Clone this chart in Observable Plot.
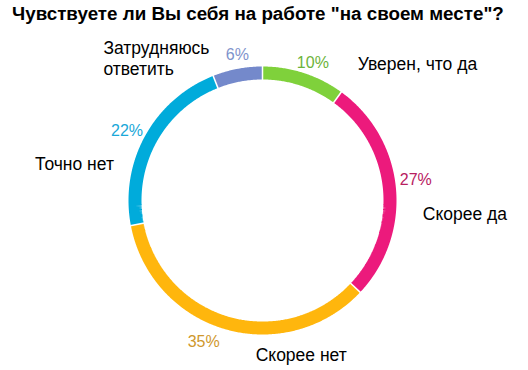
<!DOCTYPE html>
<html><head><meta charset="utf-8">
<script src="https://cdn.jsdelivr.net/npm/d3@7"></script>
<script src="https://cdn.jsdelivr.net/npm/@observablehq/plot@0.6"></script>
<style>
body{margin:0;background:#fff;font-family:"Liberation Sans",Arial,sans-serif;}
#title{height:30px;line-height:27px;padding-left:12px;font-weight:bold;font-size:18.8px;color:#000;white-space:nowrap;}
</style></head>
<body>
<div id="title"></div>
<div id="chart"></div>
<script>
const title = "Чувствуете ли Вы себя на работе \"на своем месте\"?";
const categories = ["Уверен, что да", "Скорее да", "Скорее нет", "Точно нет", "Затрудняюсь\nответить"];
const values = [10, 27, 35, 22, 6];
const colors = ["#7fd13b", "#ec1a7c", "#ffb60d", "#00abdb", "#7489cb"];
const pctColors = ["#6cb33a", "#b8205f", "#cf982c", "#1aa8d8", "#7f93cc"];
// layout nudges (pixels, screen direction) for labels
const pctNudge = [[4,5],[4,-7],[-17,-3],[-4,3],[3,2]];
const catNudge = [[49,5],[11,27],[35,10],[-96,35],[-131,5]];

document.getElementById("title").textContent = title;

const W = 528, H = 340, cx = 262, cy = 170;
const rMid = 127.5, ringW = 13, rLab = 150;
const total = d3.sum(values);
let acc = 0;
const segs = values.map((v, i) => {
  const a0 = acc / total * 2 * Math.PI;
  acc += v;
  const a1 = acc / total * 2 * Math.PI;
  return {cat: categories[i], value: v, a0, a1, mid: (a0 + a1) / 2, i};
});
const polar = (a, r) => [r * Math.sin(a), r * Math.cos(a)];
const ringPts = segs.flatMap(s => {
  const n = Math.max(2, Math.ceil((s.a1 - s.a0) / (Math.PI / 360)));
  return d3.range(n + 1).map(k => {
    const a = s.a0 + (s.a1 - s.a0) * k / n;
    const [x, y] = polar(a, rMid);
    return {cat: s.cat, x, y};
  });
});
const seps = segs.map(s => {
  const [x1, y1] = polar(s.a0, rMid - ringW/2 - 2);
  const [x2, y2] = polar(s.a0, rMid + ringW/2 + 2);
  return {x1, y1, x2, y2};
});
const labels = segs.map(s => {
  const [x, y] = polar(s.mid, rLab);
  return {x, y, i: s.i, pct: s.value + "%", cat: s.cat};
});

const font = "Liberation Sans, Arial, sans-serif";
const chart = Plot.plot({
  width: W, height: H,
  margin: 0,
  x: {domain: [-cx, W - cx], axis: null},
  y: {domain: [-(H - cy), cy], axis: null},
  color: {domain: categories, range: colors},
  style: {fontFamily: font, background: "#fff"},
  marks: [
    Plot.line(ringPts, {x: "x", y: "y", z: "cat", stroke: "cat", strokeWidth: ringW, strokeLinecap: "butt", strokeLinejoin: "miter", curve: "linear"}),
    Plot.link(seps, {x1: "x1", y1: "y1", x2: "x2", y2: "y2", stroke: "#fff", strokeWidth: 1.5}),
    ...labels.map(l => Plot.text([l], {x: "x", y: "y", text: "pct", fill: pctColors[l.i], fontSize: 16, textAnchor: "middle", dx: pctNudge[l.i][0], dy: pctNudge[l.i][1]})),
    ...labels.map(l => Plot.text([l], {x: "x", y: "y", text: "cat", fill: "#000", fontSize: 17.5, textAnchor: "start", lineHeight: 1.2, dx: catNudge[l.i][0], dy: catNudge[l.i][1]}))
  ]
});
document.getElementById("chart").appendChild(chart);
</script>
</body></html>
